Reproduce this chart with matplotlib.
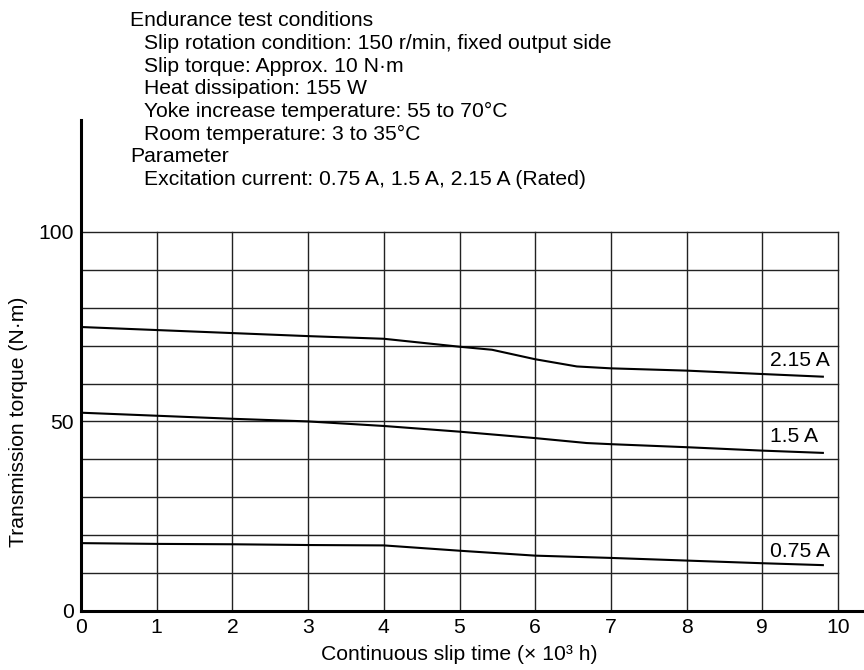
import matplotlib.pyplot as plt

plt.rcParams['font.family'] = ['Liberation Sans', 'DejaVu Sans']

# slip time (x 10^3 h) and torque (N·m) for each excitation current
t_215 = [0, 1, 2, 3, 4, 5, 5.43, 6, 6.55, 7, 8, 9, 9.8]
tq_215 = [74.9, 74.1, 73.3, 72.5, 71.8, 69.7, 68.9, 66.4, 64.5, 64.0, 63.4, 62.5, 61.8]

t_15 = [0, 1, 2, 3, 4, 5, 6, 6.68, 7, 8, 9, 9.8]
tq_15 = [52.3, 51.5, 50.7, 50.0, 48.8, 47.3, 45.6, 44.3, 44.0, 43.2, 42.3, 41.7]

t_075 = [0, 1, 2, 3, 4, 5, 6, 7, 8, 9, 9.8]
tq_075 = [17.9, 17.7, 17.6, 17.4, 17.3, 15.9, 14.6, 14.0, 13.3, 12.6, 12.1]

curve_labels = ["2.15 A", "1.5 A", "0.75 A"]
label_y = [66.2, 45.9, 15.8]

headings = ["Endurance test conditions", "Parameter"]
conditions = [
    "Slip rotation condition: 150 r/min, fixed output side",
    "Slip torque: Approx. 10 N\u00b7m",
    "Heat dissipation: 155 W",
    "Yoke increase temperature: 55 to 70\u00b0C",
    "Room temperature: 3 to 35\u00b0C",
]
parameters = ["Excitation current: 0.75 A, 1.5 A, 2.15 A (Rated)"]

fs = 15.2

fig = plt.figure(figsize=(8.64, 6.70), dpi=100)
ax = fig.add_axes([81 / 864, 59 / 670, 783 / 864, 491 / 670])

# grid limited to the 0-10 x 0-100 box
for yy in range(10, 101, 10):
    ax.plot([0, 10], [yy, yy], color='#222222', lw=1.0, zorder=1)
for xx in range(1, 11):
    ax.plot([xx, xx], [0, 100], color='#222222', lw=1.0, zorder=1)

for t, tq in [(t_215, tq_215), (t_15, tq_15), (t_075, tq_075)]:
    ax.plot(t, tq, color='black', lw=1.5, zorder=3)

for lab, ly in zip(curve_labels, label_y):
    ax.text(9.1, ly, lab, fontsize=fs, ha='left', va='center')

ax.set_xlim(0, 783 / 75.7)
ax.set_ylim(0, 129.5)
ax.set_xticks(range(0, 11))
ax.set_yticks([0, 50, 100])
ax.tick_params(length=0, labelsize=fs, pad=5)
for s in ['top', 'right']:
    ax.spines[s].set_visible(False)
for s in ['left', 'bottom']:
    ax.spines[s].set_linewidth(2.2)

ax.set_xlabel("Continuous slip time (\u00d7 10\u00b3 h)", fontsize=fs)
ax.set_ylabel("Transmission torque (N\u00b7m)", fontsize=fs)
ax.yaxis.set_label_coords(-0.068, 50 / 129.5)
ax.xaxis.set_label_coords(5 / (783 / 75.7), -0.070)

# test condition notes above the plot
rows = [(130, headings[0])] + [(144, c) for c in conditions] + \
       [(130, headings[1])] + [(144, p) for p in parameters]
for i, (px, line) in enumerate(rows):
    fig.text(px / 864, 1 - (21 + 22.6 * i) / 670, line, fontsize=fs, va='center', ha='left')

fig.savefig("out.png", dpi=100)
